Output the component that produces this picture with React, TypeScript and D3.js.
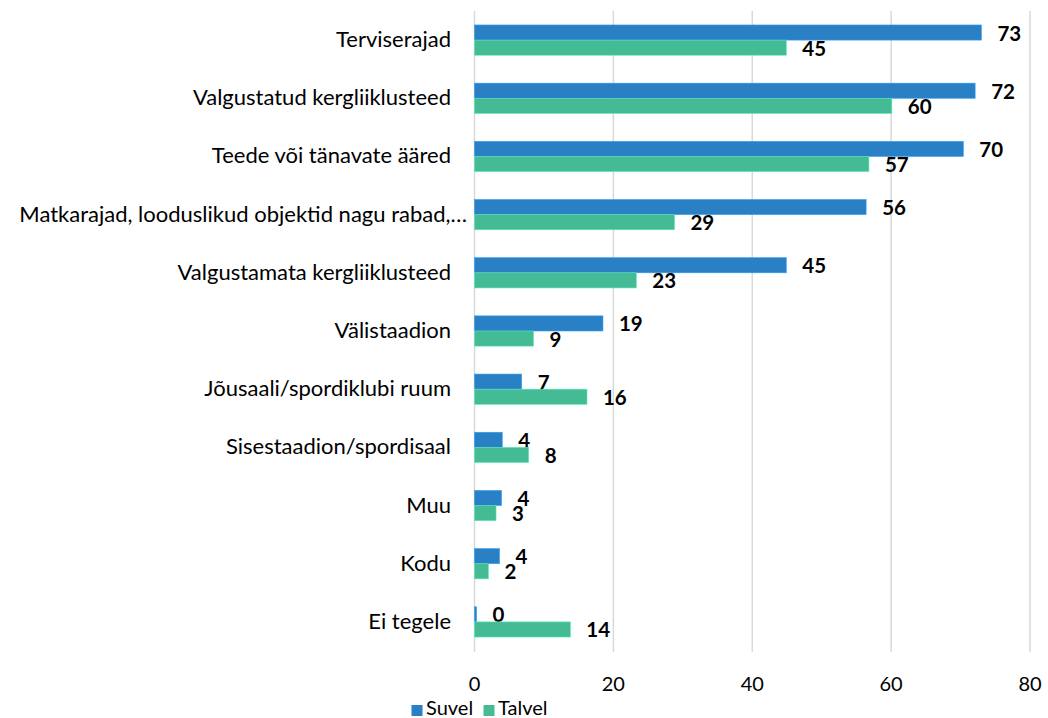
import * as d3 from 'd3'
import { useRef, useEffect } from 'react'

const categories = [
  'Terviserajad',
  'Valgustatud kergliiklusteed',
  'Teede või tänavate ääred',
  'Matkarajad, looduslikud objektid nagu rabad,…',
  'Valgustamata kergliiklusteed',
  'Välistaadion',
  'Jõusaali/spordiklubi ruum',
  'Sisestaadion/spordisaal',
  'Muu',
  'Kodu',
  'Ei tegele',
]
const suvel = [73.0, 72.1, 70.4, 56.4, 44.9, 18.5, 6.8, 4.0, 3.9, 3.6, 0.3]
const talvel = [44.9, 60.1, 56.8, 28.8, 23.3, 8.5, 16.2, 7.8, 3.1, 2.0, 13.8]
const seriesNames = ['Suvel', 'Talvel']
const xTicks = [0, 20, 40, 60, 80]

const colors = ['#2a80c5', '#45bb95']
const font = 'Lato, "Open Sans", sans-serif'

export default function App() {
  const svgRef = useRef<SVGSVGElement>(null)
  const width = 1048
  const height = 718

  useEffect(() => {
    const svg = d3.select(svgRef.current)
    svg.selectAll('*').remove()

    const x = d3.scaleLinear().domain([0, 80]).range([474.5, 1030])
    const y = d3.scaleBand<string>()
      .domain(categories)
      .range([11, 651])
      .paddingInner(0.48)
      .paddingOuter(0.24)
    const sub = d3.scaleBand<string>()
      .domain(seriesNames)
      .range([0, y.bandwidth()])

    // gridlines
    svg.append('g')
      .selectAll('line')
      .data(xTicks)
      .join('line')
      .attr('x1', d => x(d))
      .attr('x2', d => x(d))
      .attr('y1', 11)
      .attr('y2', 652)
      .attr('stroke', '#d9d9d9')
      .attr('stroke-width', 1.5)

    // tick labels
    svg.append('g')
      .selectAll('text')
      .data(xTicks)
      .join('text')
      .attr('x', d => x(d))
      .attr('y', 683)
      .attr('text-anchor', 'middle')
      .attr('dominant-baseline', 'central')
      .attr('font-family', font)
      .attr('font-size', 20)
      .attr('fill', '#000')
      .text(d => d)

    // category labels
    svg.append('g')
      .selectAll('text')
      .data(categories)
      .join('text')
      .attr('x', (d, i) => (i === 3 ? 467 : 451))
      .attr('y', d => (y(d) as number) + y.bandwidth() / 2 - 1.5)
      .attr('text-anchor', 'end')
      .attr('dominant-baseline', 'central')
      .attr('font-family', font)
      .attr('font-size', 22)
      .attr('fill', '#000')
      .text(d => d)

    const series = [suvel, talvel]
    series.forEach((vals, si) => {
      const g = svg.append('g')
      const rows = categories.map((c, i) => ({ c, v: vals[i] }))
      g.selectAll('rect')
        .data(rows)
        .join('rect')
        .attr('x', x(0))
        .attr('y', d => (y(d.c) as number) + (sub(seriesNames[si]) as number))
        .attr('width', d => x(d.v) - x(0))
        .attr('height', sub.bandwidth())
        .attr('fill', colors[si])
        .attr('stroke', d3.color(colors[si])!.brighter(0.6).toString())
        .attr('stroke-width', 0.6)

      g.selectAll('text')
        .data(rows)
        .join('text')
        .attr('x', d => x(d.v) + 16)
        .attr('y', d => (y(d.c) as number) + (sub(seriesNames[si]) as number) + sub.bandwidth() / 2)
        .attr('dominant-baseline', 'central')
        .attr('font-family', font)
        .attr('font-weight', 'bold')
        .attr('font-size', 20.5)
        .attr('fill', '#000')
        .text(d => Math.round(d.v))
    })

    // legend
    const legend = svg.append('g')
    const legendX = [411.5, 483.5]
    seriesNames.forEach((name, i) => {
      legend.append('rect')
        .attr('x', legendX[i])
        .attr('y', 705)
        .attr('width', 11)
        .attr('height', 11)
        .attr('fill', colors[i])
      legend.append('text')
        .attr('x', legendX[i] + 14.5)
        .attr('y', 707)
        .attr('dominant-baseline', 'central')
        .attr('font-family', font)
        .attr('font-size', 20)
        .attr('fill', '#000')
        .text(name)
    })
  }, [])

  return (
    <svg
      ref={svgRef}
      width={width}
      height={height}
      style={{ position: 'absolute', left: 0, top: 0, background: '#fff' }}
    />
  )
}
